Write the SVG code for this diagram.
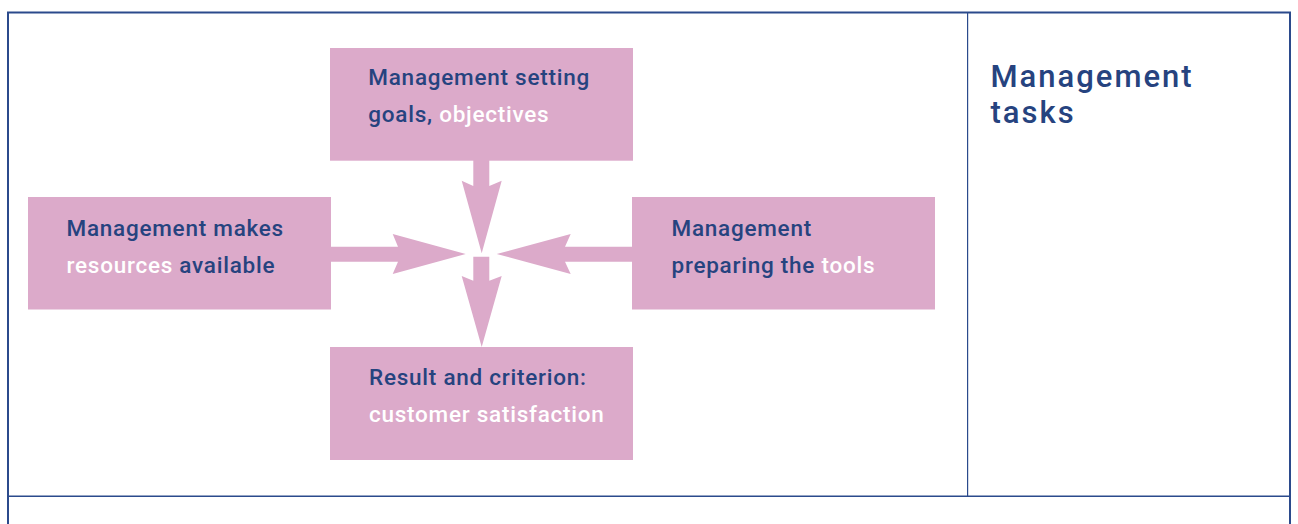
<svg xmlns="http://www.w3.org/2000/svg" width="1298" height="524" viewBox="0 0 1298 524">
<style>
.box{fill:#dcaaca}
.arrow{fill:#dcaaca}
.t{font-family:Roboto,"Liberation Sans",Arial,sans-serif;font-size:22.5px;font-weight:500;letter-spacing:0.75px;fill:#26437f}
.w{fill:#ffffff}
.title{font-family:Roboto,"Liberation Sans",Arial,sans-serif;font-size:31px;font-weight:500;letter-spacing:2px;fill:#26437f}
.frame{stroke:#2b4a8c;fill:none}
</style>
<rect width="1298" height="524" fill="#ffffff"/>
<g id="frame">
<path class="frame" stroke-width="2" d="M8 524 V12.5 H1290 V524"/>
<line class="frame" stroke-width="1.4" x1="8" y1="496.3" x2="1290" y2="496.3"/>
<line class="frame" stroke-width="1.2" x1="967.6" y1="12.5" x2="967.6" y2="496.3" stroke="#4a64a0"/>
</g>
<g id="connectors">
<polygon class="arrow" points="473.3,160 473.3,186 461.7,180.7 481.7,253.3 501.7,180.7 489.3,186 489.3,160"/>
<polygon class="arrow" points="331,246.7 398,246.7 392.7,234 465.7,254 392.7,274 398,261.7 331,261.7"/>
<polygon class="arrow" points="632,246.7 565,246.7 570.7,234 496.7,254 570.7,274 565,261.7 632,261.7"/>
<polygon class="arrow" points="473.3,256.7 489.3,256.7 489.3,280.7 501.7,276 481.7,347 461.7,276 473.3,280.7"/>
</g>
<g id="node-goals">
<rect class="box" x="330" y="48" width="303" height="112.7"/>
<text class="t" x="368.3" y="85">Management setting</text>
<text class="t" x="368.3" y="121.7">goals, <tspan class="w">objectives</tspan></text>
</g>
<g id="node-resources">
<rect class="box" x="28" y="197" width="303" height="112.5"/>
<text class="t" x="66.5" y="235.5">Management makes</text>
<text class="t" x="66.5" y="272.5"><tspan class="w">resources</tspan> available</text>
</g>
<g id="node-tools">
<rect class="box" x="632" y="197" width="303" height="112.5"/>
<text class="t" x="671.5" y="235.5">Management</text>
<text class="t" x="671.5" y="272.5">preparing the <tspan class="w">tools</tspan></text>
</g>
<g id="node-result">
<rect class="box" x="330" y="347" width="303" height="113"/>
<text class="t" x="369" y="385">Result and criterion:</text>
<text class="t w" x="369" y="421.7">customer satisfaction</text>
</g>
<g id="node-title">
<text class="title" x="990.5" y="86.7">Management</text>
<text class="title" x="990.5" y="123.3">tasks</text>
</g>
</svg>
